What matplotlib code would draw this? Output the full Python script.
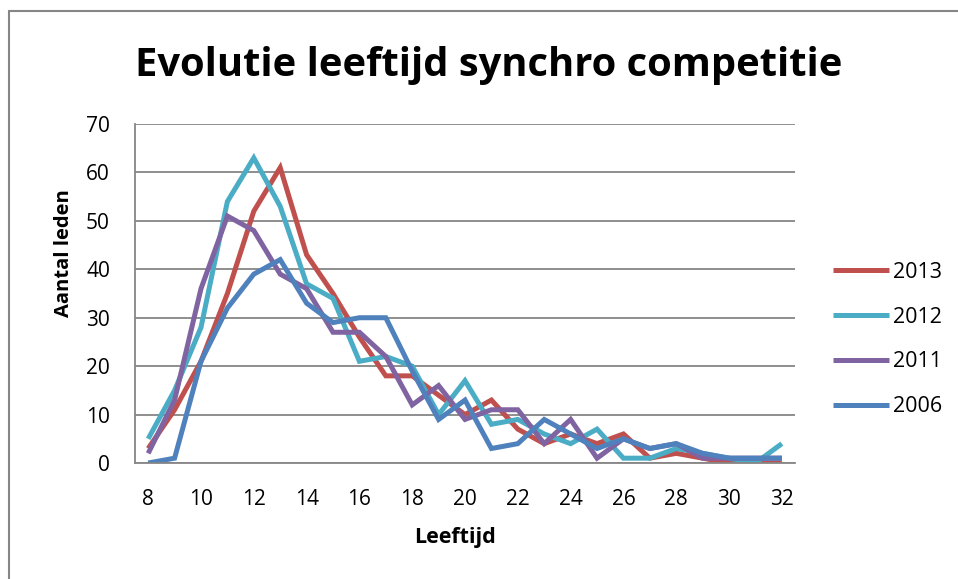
import matplotlib
matplotlib.use("Agg")
import matplotlib.pyplot as plt
from matplotlib.patches import Rectangle

plt.rcParams['font.family'] = ['Open Sans', 'DejaVu Sans']

leeftijd = list(range(8, 33))
jaren = ["2013", "2012", "2011", "2006"]
kleuren = ["#C0504D", "#4BACC6", "#8064A2", "#4F81BD"]

leden_2013 = [3, 11, 21, 35, 52, 61, 43, 35, 26, 18, 18, 14, 10, 13, 7, 4, 6, 4, 6, 1, 2, 1, 0, 0, 0]
leden_2012 = [5, 15, 28, 54, 63, 53, 37, 34, 21, 22, 20, 10, 17, 8, 9, 6, 4, 7, 1, 1, 3, 2, 1, 0, 4]
leden_2011 = [2, 13, 36, 51, 48, 39, 36, 27, 27, 22, 12, 16, 9, 11, 11, 4, 9, 1, 5, 3, 4, 1, 1, 1, 1]
leden_2006 = [0, 1, 21, 32, 39, 42, 33, 29, 30, 30, 19, 9, 13, 3, 4, 9, 6, 3, 5, 3, 4, 2, 1, 1, 1]

reeksen = [leden_2013, leden_2012, leden_2011, leden_2006]

fig = plt.figure(figsize=(9.58, 5.79), dpi=100)
ax = fig.add_axes([0.1409, 0.2003, 0.689, 0.5855])

for jaar, kleur, waarden in zip(jaren, kleuren, reeksen):
    ax.plot(leeftijd, waarden, color=kleur, linewidth=3.6, label=jaar,
            solid_joinstyle='miter', solid_capstyle='butt')

ax.set_xlim(7.5, 32.5)
ax.set_ylim(0, 70)
ax.set_xticks(range(8, 33, 2))
ax.set_yticks(range(0, 71, 10))
ax.tick_params(axis='both', length=0, labelsize=15, colors='black')
ax.tick_params(axis='x', pad=19)
ax.tick_params(axis='y', pad=18)
ax.grid(axis='y', color='#868686', linewidth=1.3)
ax.set_axisbelow(True)
for s in ['top', 'right']:
    ax.spines[s].set_visible(False)
for s in ['left', 'bottom']:
    ax.spines[s].set_color('#868686')
    ax.spines[s].set_linewidth(1.3)

ax.set_xlabel("Leeftijd", fontsize=15.5, fontweight='bold')
ax.xaxis.set_label_coords(0.4848, -0.221)
ax.xaxis.label.set_va('center')
ax.set_ylabel("Aantal leden", fontsize=14.5, fontweight='bold')
ax.yaxis.set_label_coords(-0.1076, 0.619)
ax.yaxis.label.set_va('center')
ax.yaxis.label.set_ha('center')

fig.text(0.51, 0.887, "Evolutie leeftijd synchro competitie", fontsize=28.7,
         fontweight='bold', ha='center', va='center')

ax.legend(loc='center left', bbox_to_anchor=(0.8606, 0.4136),
          bbox_transform=fig.transFigure, frameon=False,
          fontsize=15.5, handlelength=2.6, handletextpad=0.2,
          labelspacing=1.1, borderaxespad=0)

# outer chart border
fig.patches.append(Rectangle((9 / 958, -0.05), 1.1, (579 - 11) / 579 + 0.05,
                             transform=fig.transFigure, fill=False,
                             edgecolor='#868686', linewidth=1.5))

fig.savefig("out.png", dpi=100)
